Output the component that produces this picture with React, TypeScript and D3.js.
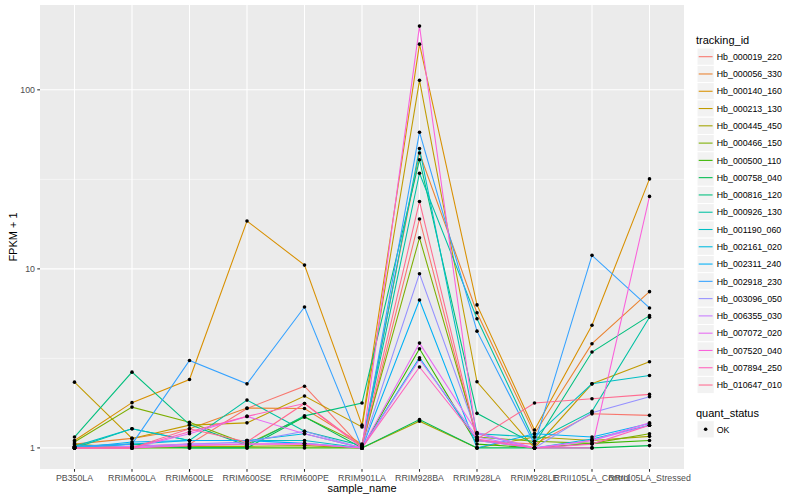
import { useEffect, useRef } from "react"
import * as d3 from "d3"

// sample order on the x axis
const samples = [
  "PB350LA",
  "RRIM600LA",
  "RRIM600LE",
  "RRIM600SE",
  "RRIM600PE",
  "RRIM901LA",
  "RRIM928BA",
  "RRIM928LA",
  "RRIM928LE",
  "RRII105LA_Control",
  "RRII105LA_Stressed",
]

const trackingIds = [
  "Hb_000019_220",
  "Hb_000056_330",
  "Hb_000140_160",
  "Hb_000213_130",
  "Hb_000445_450",
  "Hb_000466_150",
  "Hb_000500_110",
  "Hb_000758_040",
  "Hb_000816_120",
  "Hb_000926_130",
  "Hb_001190_060",
  "Hb_002161_020",
  "Hb_002311_240",
  "Hb_002918_230",
  "Hb_003096_050",
  "Hb_006355_030",
  "Hb_007072_020",
  "Hb_007520_040",
  "Hb_007894_250",
  "Hb_010647_010",
]

// FPKM + 1, one value per sample
const hb000019_220 = [1.0, 1.02, 1.05, 1.66, 2.21, 1.0, 19.0, 1.1, 1.05, 1.55, 1.52]
const hb000056_330 = [1.05, 1.13, 1.28, 1.67, 1.66, 1.05, 44.4, 5.69, 1.2, 3.82, 7.46]
const hb000140_160 = [1.1, 1.79, 2.41, 18.5, 10.5, 1.34, 180, 6.29, 1.26, 4.84, 31.8]
const hb000213_130 = [2.33, 1.13, 1.34, 1.38, 1.95, 1.31, 113, 2.34, 1.0, 2.28, 3.03]
const hb000445_450 = [1.05, 1.0, 1.02, 1.02, 1.03, 1.0, 1.41, 1.0, 1.15, 1.1, 1.16]
const hb000466_150 = [1.08, 1.69, 1.39, 1.05, 1.49, 1.04, 14.9, 1.15, 1.09, 1.06, 1.2]
const hb000500_110 = [1.0, 1.0, 1.0, 1.0, 1.0, 1.0, 3.58, 1.05, 1.0, 1.06, 1.1]
const hb000758_040 = [1.02, 1.05, 1.0, 1.0, 1.49, 1.0, 1.44, 1.0, 1.0, 1.0, 1.03]
const hb000816_120 = [1.15, 2.65, 1.35, 1.03, 1.51, 1.78, 40.7, 1.56, 1.05, 3.43, 5.48]
const hb000926_130 = [1.0, 1.28, 1.1, 1.85, 1.24, 1.03, 34.2, 5.27, 1.09, 1.6, 5.37]
const hb001190_060 = [1.02, 1.28, 1.1, 1.1, 1.1, 1.0, 47, 1.2, 1.15, 2.28, 2.54]
const hb002161_020 = [1.0, 1.05, 1.1, 1.1, 1.2, 1.0, 3.19, 1.1, 1.0, 1.12, 1.34]
const hb002311_240 = [1.0, 1.08, 1.1, 1.1, 1.06, 1.0, 6.7, 1.0, 1.2, 1.15, 1.37]
const hb002918_230 = [1.02, 1.05, 3.08, 2.28, 6.12, 1.0, 58, 4.49, 1.05, 11.9, 6.05]
const hb003096_050 = [1.0, 1.0, 1.05, 1.08, 1.24, 1.0, 9.4, 1.2, 1.0, 1.57, 1.93]
const hb006355_030 = [1.0, 1.02, 1.05, 1.05, 1.06, 1.0, 3.12, 1.15, 1.0, 1.1, 1.34]
const hb007072_020 = [1.0, 1.0, 1.2, 1.5, 1.2, 1.0, 3.85, 1.22, 1.0, 1.1, 1.38]
const hb007520_040 = [1.0, 1.0, 1.03, 1.05, 1.05, 1.0, 227, 1.1, 1.0, 1.0, 25.4]
const hb007894_250 = [1.0, 1.0, 1.23, 1.5, 1.77, 1.0, 2.83, 1.12, 1.0, 1.05, 1.34]
const hb010647_010 = [1.0, 1.0, 1.28, 1.08, 1.77, 1.02, 23.8, 1.12, 1.78, 1.88, 1.99]

const seriesValues = [
  hb000019_220, hb000056_330, hb000140_160, hb000213_130, hb000445_450,
  hb000466_150, hb000500_110, hb000758_040, hb000816_120, hb000926_130,
  hb001190_060, hb002161_020, hb002311_240, hb002918_230, hb003096_050,
  hb006355_030, hb007072_020, hb007520_040, hb007894_250, hb010647_010,
]

const yBreaks = [1, 10, 100]
const yMinorBreaks = [Math.sqrt(10), Math.sqrt(1000)]

// ggplot default hue palette for 20 levels
const palette = [
  "#F8766D", "#EA8331", "#D89000", "#C09B00", "#A3A500",
  "#7CAE00", "#39B600", "#00BB4E", "#00BF7D", "#00C1A3",
  "#00BFC4", "#00BAE0", "#00B0F6", "#35A2FF", "#9590FF",
  "#C77CFF", "#E76BF3", "#FA62DB", "#FF62BC", "#FF6C91",
]

const FONT = "'Liberation Sans', Arial, Helvetica, sans-serif"

export default function App() {
  const svgRef = useRef<SVGSVGElement>(null)

  useEffect(() => {
    if (!svgRef.current) return
    const svg = d3.select(svgRef.current)
    svg.selectAll("*").remove()

    const width = 800
    const height = 500
    const panel = { left: 40, right: 684, top: 5, bottom: 469 }

    const x = d3
      .scalePoint<string>()
      .domain(samples)
      .range([panel.left, panel.right])
      .padding(0.6)

    // log10 scale with 5% expansion in transformed space
    const allValues = seriesValues.flat()
    const lmin = Math.log10(d3.min(allValues) || 1)
    const lmax = Math.log10(d3.max(allValues) || 10)
    const pad = (lmax - lmin) * 0.05
    const y = d3
      .scaleLog()
      .domain([Math.pow(10, lmin - pad), Math.pow(10, lmax + pad)])
      .range([panel.bottom, panel.top])

    svg.append("rect").attr("width", width).attr("height", height).attr("fill", "#fff")

    // panel background
    svg
      .append("rect")
      .attr("x", panel.left)
      .attr("y", panel.top)
      .attr("width", panel.right - panel.left)
      .attr("height", panel.bottom - panel.top)
      .attr("fill", "#EBEBEB")

    const grid = svg.append("g")
    yMinorBreaks.forEach((b) => {
      grid
        .append("line")
        .attr("x1", panel.left)
        .attr("x2", panel.right)
        .attr("y1", y(b))
        .attr("y2", y(b))
        .attr("stroke", "#fff")
        .attr("stroke-width", 0.53)
    })
    yBreaks.forEach((b) => {
      grid
        .append("line")
        .attr("x1", panel.left)
        .attr("x2", panel.right)
        .attr("y1", y(b))
        .attr("y2", y(b))
        .attr("stroke", "#fff")
        .attr("stroke-width", 1.07)
    })
    samples.forEach((s) => {
      grid
        .append("line")
        .attr("x1", x(s) || 0)
        .attr("x2", x(s) || 0)
        .attr("y1", panel.top)
        .attr("y2", panel.bottom)
        .attr("stroke", "#fff")
        .attr("stroke-width", 1.07)
    })

    // lines
    const line = d3
      .line<number>()
      .x((_, i) => x(samples[i]) || 0)
      .y((d) => y(d))

    seriesValues.forEach((vals, i) => {
      svg
        .append("path")
        .datum(vals)
        .attr("fill", "none")
        .attr("stroke", palette[i])
        .attr("stroke-width", 1.07)
        .attr("d", line)
    })

    // points
    seriesValues.forEach((vals) => {
      svg
        .append("g")
        .selectAll("circle")
        .data(vals)
        .enter()
        .append("circle")
        .attr("cx", (_, j) => x(samples[j]) || 0)
        .attr("cy", (d) => y(d))
        .attr("r", 1.8)
        .attr("fill", "#000")
    })

    // y axis
    const yAxis = svg.append("g")
    yBreaks.forEach((b) => {
      yAxis
        .append("line")
        .attr("x1", panel.left - 2.75)
        .attr("x2", panel.left)
        .attr("y1", y(b))
        .attr("y2", y(b))
        .attr("stroke", "#333333")
        .attr("stroke-width", 1.07)
      yAxis
        .append("text")
        .attr("x", panel.left - 5)
        .attr("y", y(b) + 3.2)
        .attr("text-anchor", "end")
        .style("font-family", FONT)
        .style("font-size", "8.8px")
        .style("fill", "#4D4D4D")
        .text(String(b))
    })

    // x axis
    const xAxis = svg.append("g")
    samples.forEach((s) => {
      xAxis
        .append("line")
        .attr("x1", x(s) || 0)
        .attr("x2", x(s) || 0)
        .attr("y1", panel.bottom)
        .attr("y2", panel.bottom + 2.75)
        .attr("stroke", "#333333")
        .attr("stroke-width", 1.07)
      xAxis
        .append("text")
        .attr("x", x(s) || 0)
        .attr("y", panel.bottom + 11.5)
        .attr("text-anchor", "middle")
        .style("font-family", FONT)
        .style("font-size", "8.8px")
        .style("fill", "#4D4D4D")
        .text(s)
    })

    svg
      .append("text")
      .attr("x", (panel.left + panel.right) / 2)
      .attr("y", 492)
      .attr("text-anchor", "middle")
      .style("font-family", FONT)
      .style("font-size", "11px")
      .style("fill", "#000")
      .text("sample_name")

    svg
      .append("text")
      .attr("transform", `translate(17, ${(panel.top + panel.bottom) / 2}) rotate(-90)`)
      .attr("text-anchor", "middle")
      .style("font-family", FONT)
      .style("font-size", "11px")
      .style("fill", "#000")
      .text("FPKM + 1")

    // legend: tracking_id
    const keyX = 697
    const keySize = 17.28
    const legend = svg.append("g")
    legend
      .append("text")
      .attr("x", 696)
      .attr("y", 44)
      .style("font-family", FONT)
      .style("font-size", "11px")
      .style("fill", "#000")
      .text("tracking_id")

    trackingIds.forEach((id, i) => {
      const cy = 56.7 + i * keySize
      const row = legend.append("g")
      row
        .append("rect")
        .attr("x", keyX)
        .attr("y", cy - keySize / 2)
        .attr("width", keySize)
        .attr("height", keySize)
        .attr("fill", "#F2F2F2")
        .attr("stroke", "#fff")
        .attr("stroke-width", 1)
      row
        .append("line")
        .attr("x1", keyX + 1.7)
        .attr("x2", keyX + keySize - 1.7)
        .attr("y1", cy)
        .attr("y2", cy)
        .attr("stroke", palette[i])
        .attr("stroke-width", 1.07)
      row
        .append("text")
        .attr("x", keyX + keySize + 2.5)
        .attr("y", cy + 3.2)
        .style("font-family", FONT)
        .style("font-size", "8.8px")
        .style("fill", "#000")
        .text(id)
    })

    // legend: quant_status
    legend
      .append("text")
      .attr("x", 696)
      .attr("y", 416.5)
      .style("font-family", FONT)
      .style("font-size", "11px")
      .style("fill", "#000")
      .text("quant_status")
    const okY = 429.3
    legend
      .append("rect")
      .attr("x", keyX)
      .attr("y", okY - keySize / 2)
      .attr("width", keySize)
      .attr("height", keySize)
      .attr("fill", "#F2F2F2")
      .attr("stroke", "#fff")
    legend
      .append("circle")
      .attr("cx", keyX + keySize / 2)
      .attr("cy", okY)
      .attr("r", 1.8)
      .attr("fill", "#000")
    legend
      .append("text")
      .attr("x", keyX + keySize + 2.5)
      .attr("y", okY + 3.2)
      .style("font-family", FONT)
      .style("font-size", "8.8px")
      .style("fill", "#000")
      .text("OK")
  }, [])

  return (
    <svg
      ref={svgRef}
      width={800}
      height={500}
      style={{ position: "absolute", left: 0, top: 0 }}
    />
  )
}
